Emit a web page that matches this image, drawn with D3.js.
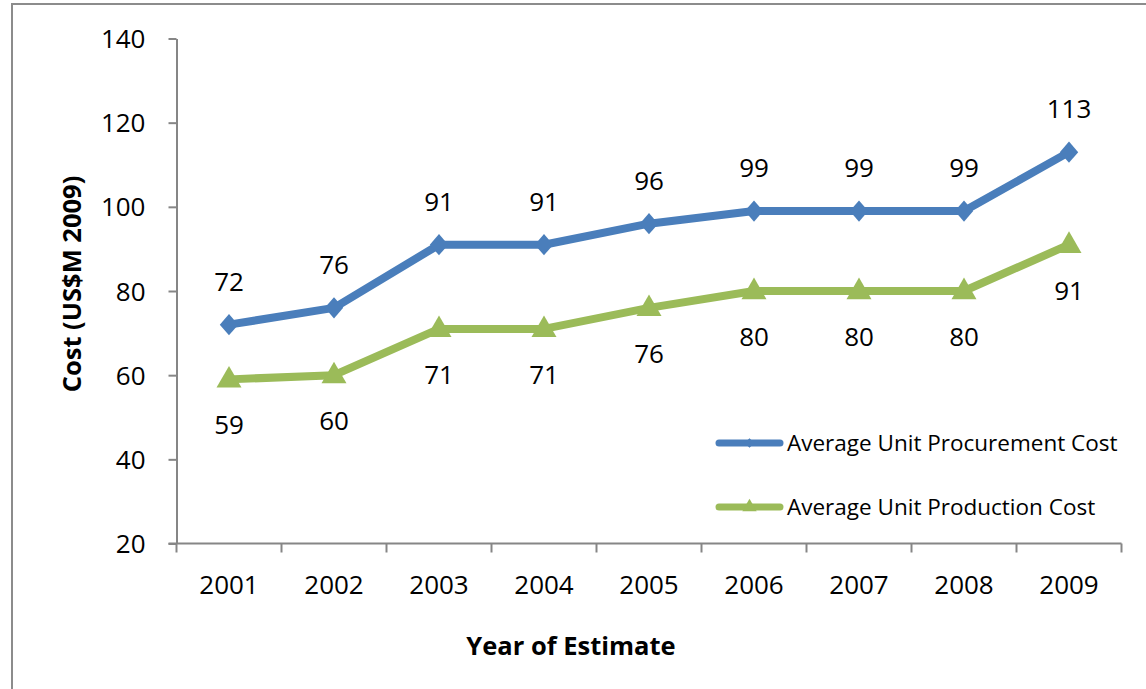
<!DOCTYPE html>
<html>
<head>
<meta charset="utf-8">
<script src="https://cdn.jsdelivr.net/npm/d3@7"></script>
<style>
  html, body { margin: 0; padding: 0; background: #fff; }
  svg { display: block; font-family: "Open Sans", "Noto Sans", sans-serif; }
</style>
</head>
<body>
<svg id="chart" width="1146" height="689"></svg>
<script>
// Estimate years and the two cost series (US$M, 2009 dollars)
const years = ["2001", "2002", "2003", "2004", "2005", "2006", "2007", "2008", "2009"];
const procurementCost = [72, 76, 91, 91, 96, 99, 99, 99, 113];
const productionCost = [59, 60, 71, 71, 76, 80, 80, 80, 91];
const yTicks = [20, 40, 60, 80, 100, 120, 140];
const seriesNames = ["Average Unit Procurement Cost", "Average Unit Production Cost"];

const svg = d3.select("#chart");
const plot = { left: 176.5, right: 1121.5, top: 38.5, bottom: 543.5 };
const BLUE = "#4A7EBB", GREEN = "#9BBB59", AXIS = "#868686";

// Outer chart frame
svg.append("rect")
  .attr("x", 12).attr("y", 4).attr("width", 1150).attr("height", 700)
  .attr("fill", "none").attr("stroke", "#8c8c8c").attr("stroke-width", 2);

const x = d3.scaleBand().domain(years).range([plot.left, plot.right]).padding(0);
const y = d3.scaleLinear().domain([20, 140]).range([plot.bottom, plot.top]);
const cx = d => x(d) + x.bandwidth() / 2;

// Y axis
const yAxis = svg.append("g")
  .attr("transform", `translate(${plot.left},0)`)
  .call(d3.axisLeft(y).tickValues(yTicks).tickSize(8).tickPadding(23).tickSizeOuter(0));
yAxis.select(".domain").attr("stroke", AXIS).attr("stroke-width", 2);
yAxis.selectAll(".tick line").attr("stroke", AXIS).attr("stroke-width", 2);
yAxis.selectAll(".tick text").attr("font-size", 26).attr("fill", "#000")
  .attr("font-family", "Open Sans").attr("dy", "0.35em");

// X axis: ticks sit on category boundaries, labels at band centres
const xAxisG = svg.append("g").attr("transform", `translate(0,${plot.bottom})`);
xAxisG.append("line")
  .attr("x1", plot.left - 8).attr("x2", plot.right)
  .attr("stroke", AXIS).attr("stroke-width", 2);
const boundaries = years.map(d => x(d)).concat([plot.right]);
xAxisG.selectAll("line.tk").data(boundaries).join("line")
  .attr("class", "tk")
  .attr("x1", d => d).attr("x2", d => d).attr("y1", 0).attr("y2", 9)
  .attr("stroke", AXIS).attr("stroke-width", 2);
xAxisG.selectAll("text").data(years).join("text")
  .attr("x", d => cx(d)).attr("y", 41)
  .attr("text-anchor", "middle").attr("dy", "0.35em")
  .attr("font-size", 26).text(d => d);

// Axis titles
svg.append("text")
  .attr("x", 571).attr("y", 646).attr("dy", "0.35em")
  .attr("text-anchor", "middle").attr("font-weight", "bold").attr("font-size", 25.5)
  .text("Year of Estimate");
svg.append("text")
  .attr("transform", "translate(72,284) rotate(-90)")
  .attr("dy", "0.35em")
  .attr("text-anchor", "middle").attr("font-weight", "bold").attr("font-size", 25.5)
  .text("Cost (US$M 2009)");

const line = d3.line().x((d, i) => cx(years[i])).y(d => y(d));
const diamond = d3.symbol().type(d3.symbolDiamond2).size(250);
const triangle = d3.symbol().type(d3.symbolTriangle).size(270);

// Production cost series (green triangles)
svg.append("path").datum(productionCost)
  .attr("d", line).attr("fill", "none").attr("stroke", GREEN)
  .attr("stroke-width", 8).attr("stroke-linejoin", "round").attr("stroke-linecap", "round");
svg.selectAll("path.tri").data(productionCost).join("path")
  .attr("class", "tri")
  .attr("transform", (d, i) => `translate(${cx(years[i])},${y(d) + 1})`)
  .attr("d", triangle).attr("fill", GREEN);

// Procurement cost series (blue diamonds)
svg.append("path").datum(procurementCost)
  .attr("d", line).attr("fill", "none").attr("stroke", BLUE)
  .attr("stroke-width", 8).attr("stroke-linejoin", "round").attr("stroke-linecap", "round");
svg.selectAll("path.dia").data(procurementCost).join("path")
  .attr("class", "dia")
  .attr("transform", (d, i) => `translate(${cx(years[i])},${y(d)}) scale(0.93,1.07)`)
  .attr("d", diamond).attr("fill", BLUE);

// Value labels: procurement above, production below
svg.selectAll("text.lblP").data(procurementCost).join("text")
  .attr("class", "lblP")
  .attr("x", (d, i) => cx(years[i])).attr("y", d => y(d) - 43)
  .attr("dy", "0.35em").attr("text-anchor", "middle").attr("font-size", 26)
  .text(d => d);
svg.selectAll("text.lblQ").data(productionCost).join("text")
  .attr("class", "lblQ")
  .attr("x", (d, i) => cx(years[i])).attr("y", d => y(d) + 46)
  .attr("dy", "0.35em").attr("text-anchor", "middle").attr("font-size", 26)
  .text(d => d);

// Legend
const legend = svg.append("g");
const legendRows = [
  { name: seriesNames[0], color: BLUE, sym: d3.symbol().type(d3.symbolDiamond2).size(60), y: 443 },
  { name: seriesNames[1], color: GREEN, sym: d3.symbol().type(d3.symbolTriangle).size(90), y: 507 }
];
legendRows.forEach(r => {
  legend.append("line")
    .attr("x1", 719).attr("x2", 780).attr("y1", r.y).attr("y2", r.y)
    .attr("stroke", r.color).attr("stroke-width", 7).attr("stroke-linecap", "round");
  legend.append("path").attr("d", r.sym)
    .attr("transform", `translate(749.5,${r.y})`).attr("fill", r.color);
  legend.append("text")
    .attr("x", 787).attr("y", r.y).attr("dy", "0.35em")
    .attr("font-size", 22.5).text(r.name);
});
</script>
</body>
</html>
